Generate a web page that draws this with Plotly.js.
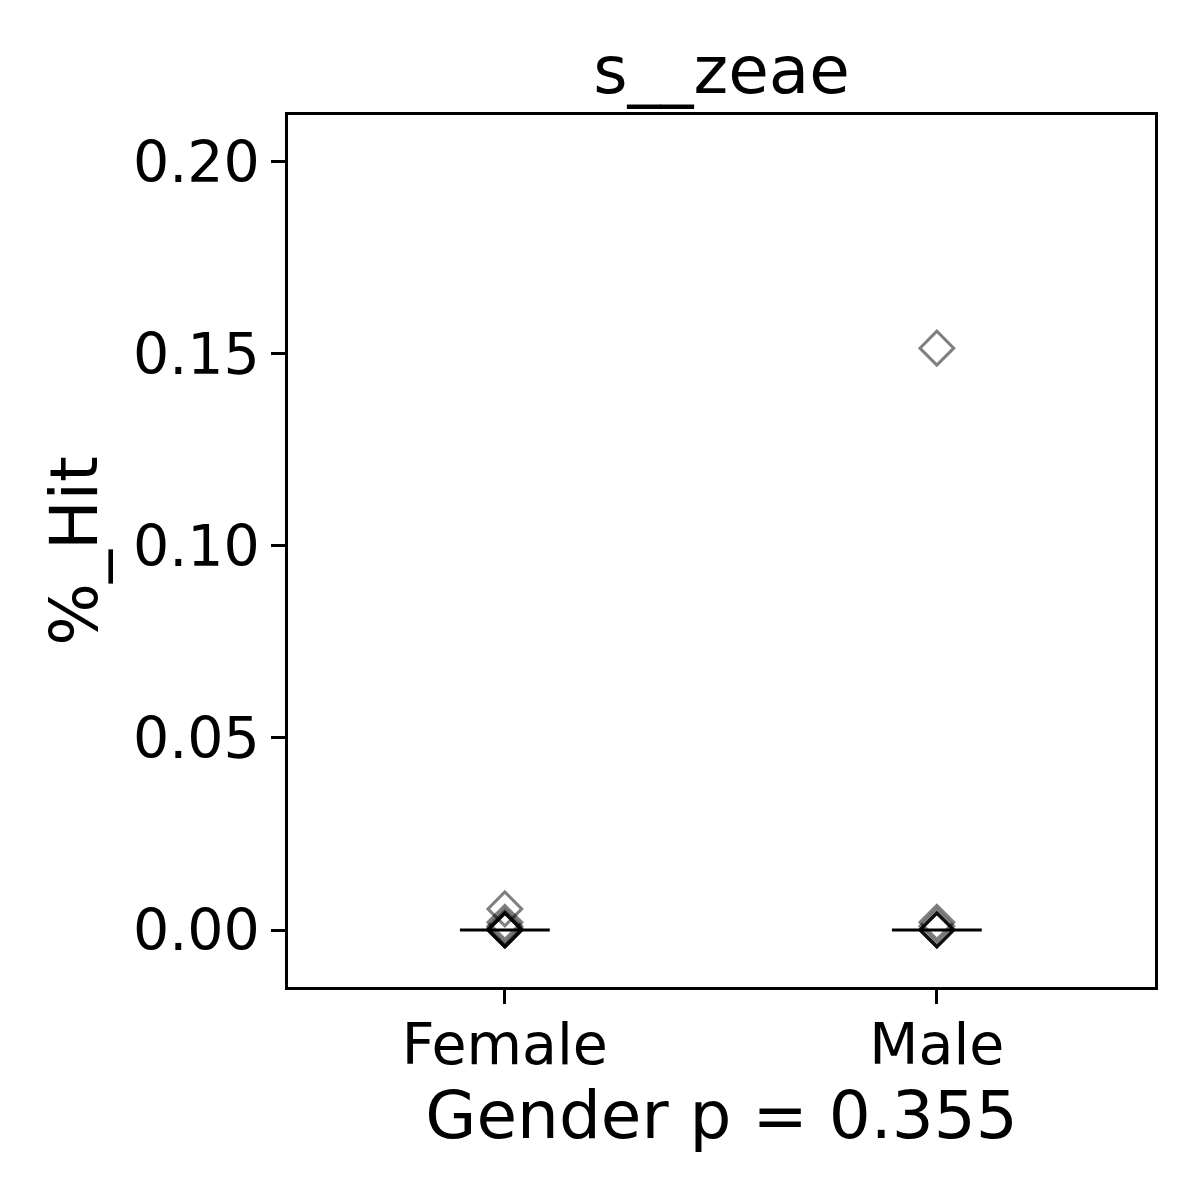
<!DOCTYPE html>
<html>
<head>
<meta charset="utf-8">
<script src="https://cdn.plot.ly/plotly-3.0.1.min.js"></script>
<style>html,body{margin:0;padding:0;background:#fff;}#chart{width:1200px;height:1200px;}</style>
</head>
<body>
<div id="chart"></div>
<script>
const categories = ["Female", "Male"];
const femaleValues = [0.0055, 0.002, 0.001, 0.0005, 0, 0, 0, 0, 0];
const maleValues = [0.1515, 0.002, 0.001, 0, 0, 0, 0];
const yTickVals = [0, 0.05, 0.10, 0.15, 0.20];
const yTickText = ["0.00", "0.05", "0.10", "0.15", "0.20"];

function median(a) {
  const s = a.slice().sort((x, y) => x - y);
  const m = Math.floor(s.length / 2);
  return s.length % 2 ? s[m] : (s[m - 1] + s[m]) / 2;
}

const groups = [femaleValues, maleValues];
const traces = [];
groups.forEach((vals, i) => {
  const med = median(vals);
  traces.push({
    x: [i - 0.104, i + 0.104], y: [med, med],
    mode: "lines", line: {color: "black", width: 3},
    showlegend: false, hoverinfo: "skip"
  });
});
groups.forEach((vals, i) => {
  traces.push({
    x: vals.map(() => i), y: vals,
    mode: "markers", type: "scatter",
    marker: {symbol: "diamond-open", size: 26, color: "rgba(0,0,0,0.5)",
             line: {color: "rgba(0,0,0,0.5)", width: 3}},
    showlegend: false
  });
});

const font = "DejaVu Sans, sans-serif";
const layout = {
  width: 1200, height: 1200,
  margin: {l: 288, r: 45, t: 115, b: 213},
  paper_bgcolor: "white", plot_bgcolor: "white",
  showlegend: false,
  font: {family: font, color: "black"},
  title: {text: "s__zeae", font: {family: font, size: 66, color: "black"},
          x: 0.5, xanchor: "center", xref: "paper",
          y: 1 - 70/1200, yanchor: "middle", yref: "container"},
  xaxis: {
    range: [-0.502, 1.505], tickvals: [0, 1], ticktext: categories,
    showgrid: false, zeroline: false, showline: true, mirror: true,
    linecolor: "black", linewidth: 2.5,
    ticks: "outside", ticklen: 14, tickwidth: 2.5, tickcolor: "black",
    ticklabelstandoff: -8,
    tickfont: {family: font, size: 57, color: "black"},
    title: {text: "Gender p = 0.355", font: {family: font, size: 66, color: "black"}, standoff: 4}
  },
  yaxis: {
    range: [-0.01484, 0.2122], tickvals: yTickVals, ticktext: yTickText,
    showgrid: false, zeroline: false, showline: true, mirror: true,
    linecolor: "black", linewidth: 2.5,
    ticks: "outside", ticklen: 14, tickwidth: 2.5, tickcolor: "black",
    tickfont: {family: font, size: 57, color: "black"},
    title: {text: "%_Hit", font: {family: font, size: 66, color: "black"}, standoff: 14}
  }
};

Plotly.newPlot("chart", traces, layout, {displayModeBar: false});
</script>
</body>
</html>
